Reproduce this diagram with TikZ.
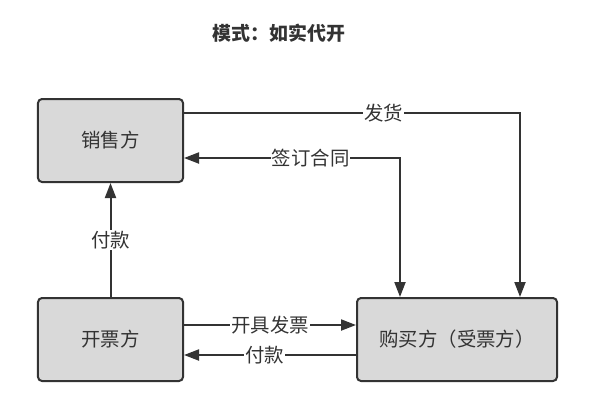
\documentclass[tikz,border=0pt]{standalone}
\usepackage{fontspec}
\setmainfont{Noto Sans CJK SC}
\usepackage{xcolor}
\usetikzlibrary{arrows.meta,positioning}
\definecolor{inkgray}{HTML}{333333}
\definecolor{boxgray}{HTML}{D9D9D9}

\begin{document}
\begin{tikzpicture}[x=1bp, y=-1bp,
  font=\fontsize{19.5}{21}\selectfont, text=inkgray,
  party/.style={draw=inkgray, line width=2bp, rounded corners=4bp,
                fill=boxgray, minimum height=83bp, inner sep=0pt},
  e/.style={-{Triangle[length=15bp,width=11bp]}, draw=inkgray,
            line width=2bp},
  ee/.style={e, {Triangle[length=15bp,width=11bp]}-{Triangle[length=15bp,width=11bp]}},
  lbl/.style={fill=white, inner sep=1bp},
  ttl/.style={font=\fontsize{19}{21}\selectfont\bfseries},
]
\useasboundingbox (0,0) rectangle (595,417);
\node[ttl] (title) at (279,33) {模式：如实代开};
\node[party, minimum width=145bp] (seller) at (110.5,140.5) {销售方};
\node[party, minimum width=145bp] (issuer) at (110.5,339.5) {开票方};
\node[party, minimum width=200bp] (buyer) at (457,339.5) {购买方（受票方）};
% seller -> buyer
\draw[e] ([yshift=-15bp]seller.north east) -| node[lbl, pos=0.297] {发货} ([xshift=63bp]buyer.north);
\draw[ee] ([xshift=-57bp]buyer.north) |- node[lbl, pos=0.707] {签订合同} ([yshift=-17.5bp]seller.east);
% issuer <-> buyer
\draw[e] ([yshift=14.5bp]issuer.east) -- node[lbl] {开具发票} ([yshift=14.5bp]buyer.west);
\draw[e] ([yshift=-15.5bp]buyer.west) -- node[lbl, pos=0.53] {付款} ([yshift=-15.5bp]issuer.east);
\draw[e] (issuer) -- node[lbl] {付款} (seller);
\end{tikzpicture}
\end{document}
